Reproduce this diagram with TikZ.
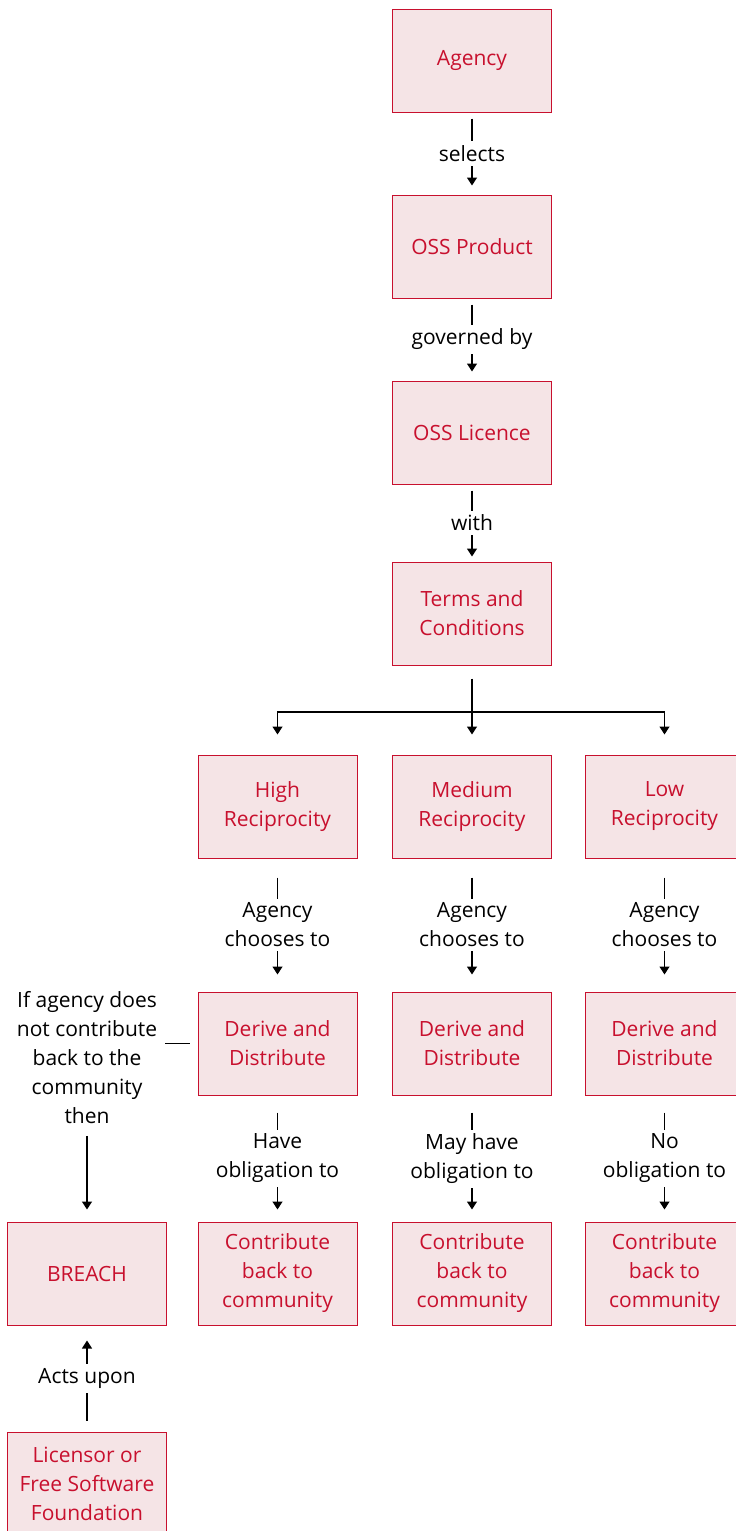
\documentclass[tikz,border=0pt]{standalone}
\usepackage{fontspec}
\setmainfont{Open Sans}
\usepackage{xcolor}
\usetikzlibrary{arrows.meta, positioning}

\definecolor{boxred}{RGB}{200,16,46}
\definecolor{boxfill}{RGB}{245,228,230}

\begin{document}
\begin{tikzpicture}[x=1pt, y=-1pt,
    box/.style={draw=boxred, fill=boxfill, text=boxred, line width=1pt,
        minimum width=159pt, minimum height=103pt, inner sep=0pt,
        align=center, font=\fontsize{21}{29}\selectfont},
    lbl/.style={fill=white, align=center, inner sep=4pt,
        font=\fontsize{21}{29}\selectfont},
    link/.style={-{Triangle[width=10pt,length=8pt]}, line width=1.2pt}]
    \useasboundingbox (0,0) rectangle (736,1531);

    % Main chain
    \node[box] (agency) at (472,60.5) {Agency};
    \node[box] (product) at (472,246.5) {OSS Product};
    \node[box] (licence) at (472,432.5) {OSS Licence};
    \node[box] (terms) at (472,613.5) {Terms and\\Conditions};

    \draw[link, shorten <=6pt, shorten >=9pt] (agency) -- node[lbl] {selects} (product);
    \draw[link, shorten <=6pt, shorten >=9pt] (product) -- node[lbl] {governed by} (licence);
    \draw[link, shorten <=6pt, shorten >=5pt] (licence) -- node[lbl] {with} (terms);

    % Reciprocity levels
    \node[box] (high) at (277.5,806.5) {High\\Reciprocity};
    \node[box] (medium) at (472,806.5) {Medium\\Reciprocity};
    \node[box] (low) at (664.5,806.5) {Low\\Reciprocity};

    \coordinate (split) at (472,712);
    \draw[line width=1.2pt, shorten <=13pt] (terms) -- (split);
    \draw[link, shorten >=20pt] (split) -| (high.north);
    \draw[link, shorten >=20pt] (split) -- (medium.north);
    \draw[link, shorten >=20pt] (split) -| (low.north);

    % Derive and distribute
    \node[box] (deriveH) at (277.5,1043.5) {Derive and\\Distribute};
    \node[box] (deriveM) at (472,1043.5) {Derive and\\Distribute};
    \node[box] (deriveL) at (664.5,1043.5) {Derive and\\Distribute};

    \draw[link, shorten <=19pt, shorten >=17pt] (high) -- node[lbl] {Agency\\chooses to} (deriveH);
    \draw[link, shorten <=19pt, shorten >=17pt] (medium) -- node[lbl] {Agency\\chooses to} (deriveM);
    \draw[link, shorten <=19pt, shorten >=17pt] (low) -- node[lbl] {Agency\\chooses to} (deriveL);

    % Contribute back
    \node[box] (contribH) at (277.5,1273.5) {Contribute\\back to\\community};
    \node[box] (contribM) at (472,1273.5) {Contribute\\back to\\community};
    \node[box] (contribL) at (664.5,1273.5) {Contribute\\back to\\community};

    \draw[link, shorten <=17pt, shorten >=12pt] (deriveH) -- node[lbl] {Have\\obligation to} (contribH);
    \draw[link, shorten <=17pt, shorten >=12pt] (deriveM) -- node[lbl] {May have\\obligation to} (contribM);
    \draw[link, shorten <=17pt, shorten >=12pt] (deriveL) -- node[lbl] {No\\obligation to} (contribL);

    % Breach branch
    \node[align=center, inner sep=0pt, font=\fontsize{21}{29}\selectfont] (cond) at (87,1057.5)
        {If agency does\\not contribute\\back to the\\community\\then};
    \node[box] (breach) at (87,1273.5) {BREACH};
    \node[box] (licensor) at (87,1483.5) {Licensor or\\Free Software\\Foundation};

    \draw[line width=1.2pt, shorten <=8pt, shorten >=8pt] (deriveH.west) -- (deriveH.west -| cond.east);
    \draw[link, shorten <=12pt, shorten >=12pt] (cond) -- (breach);
    \draw[link, shorten <=11pt, shorten >=15pt] (licensor) -- node[lbl] {Acts upon} (breach);
\end{tikzpicture}
\end{document}
